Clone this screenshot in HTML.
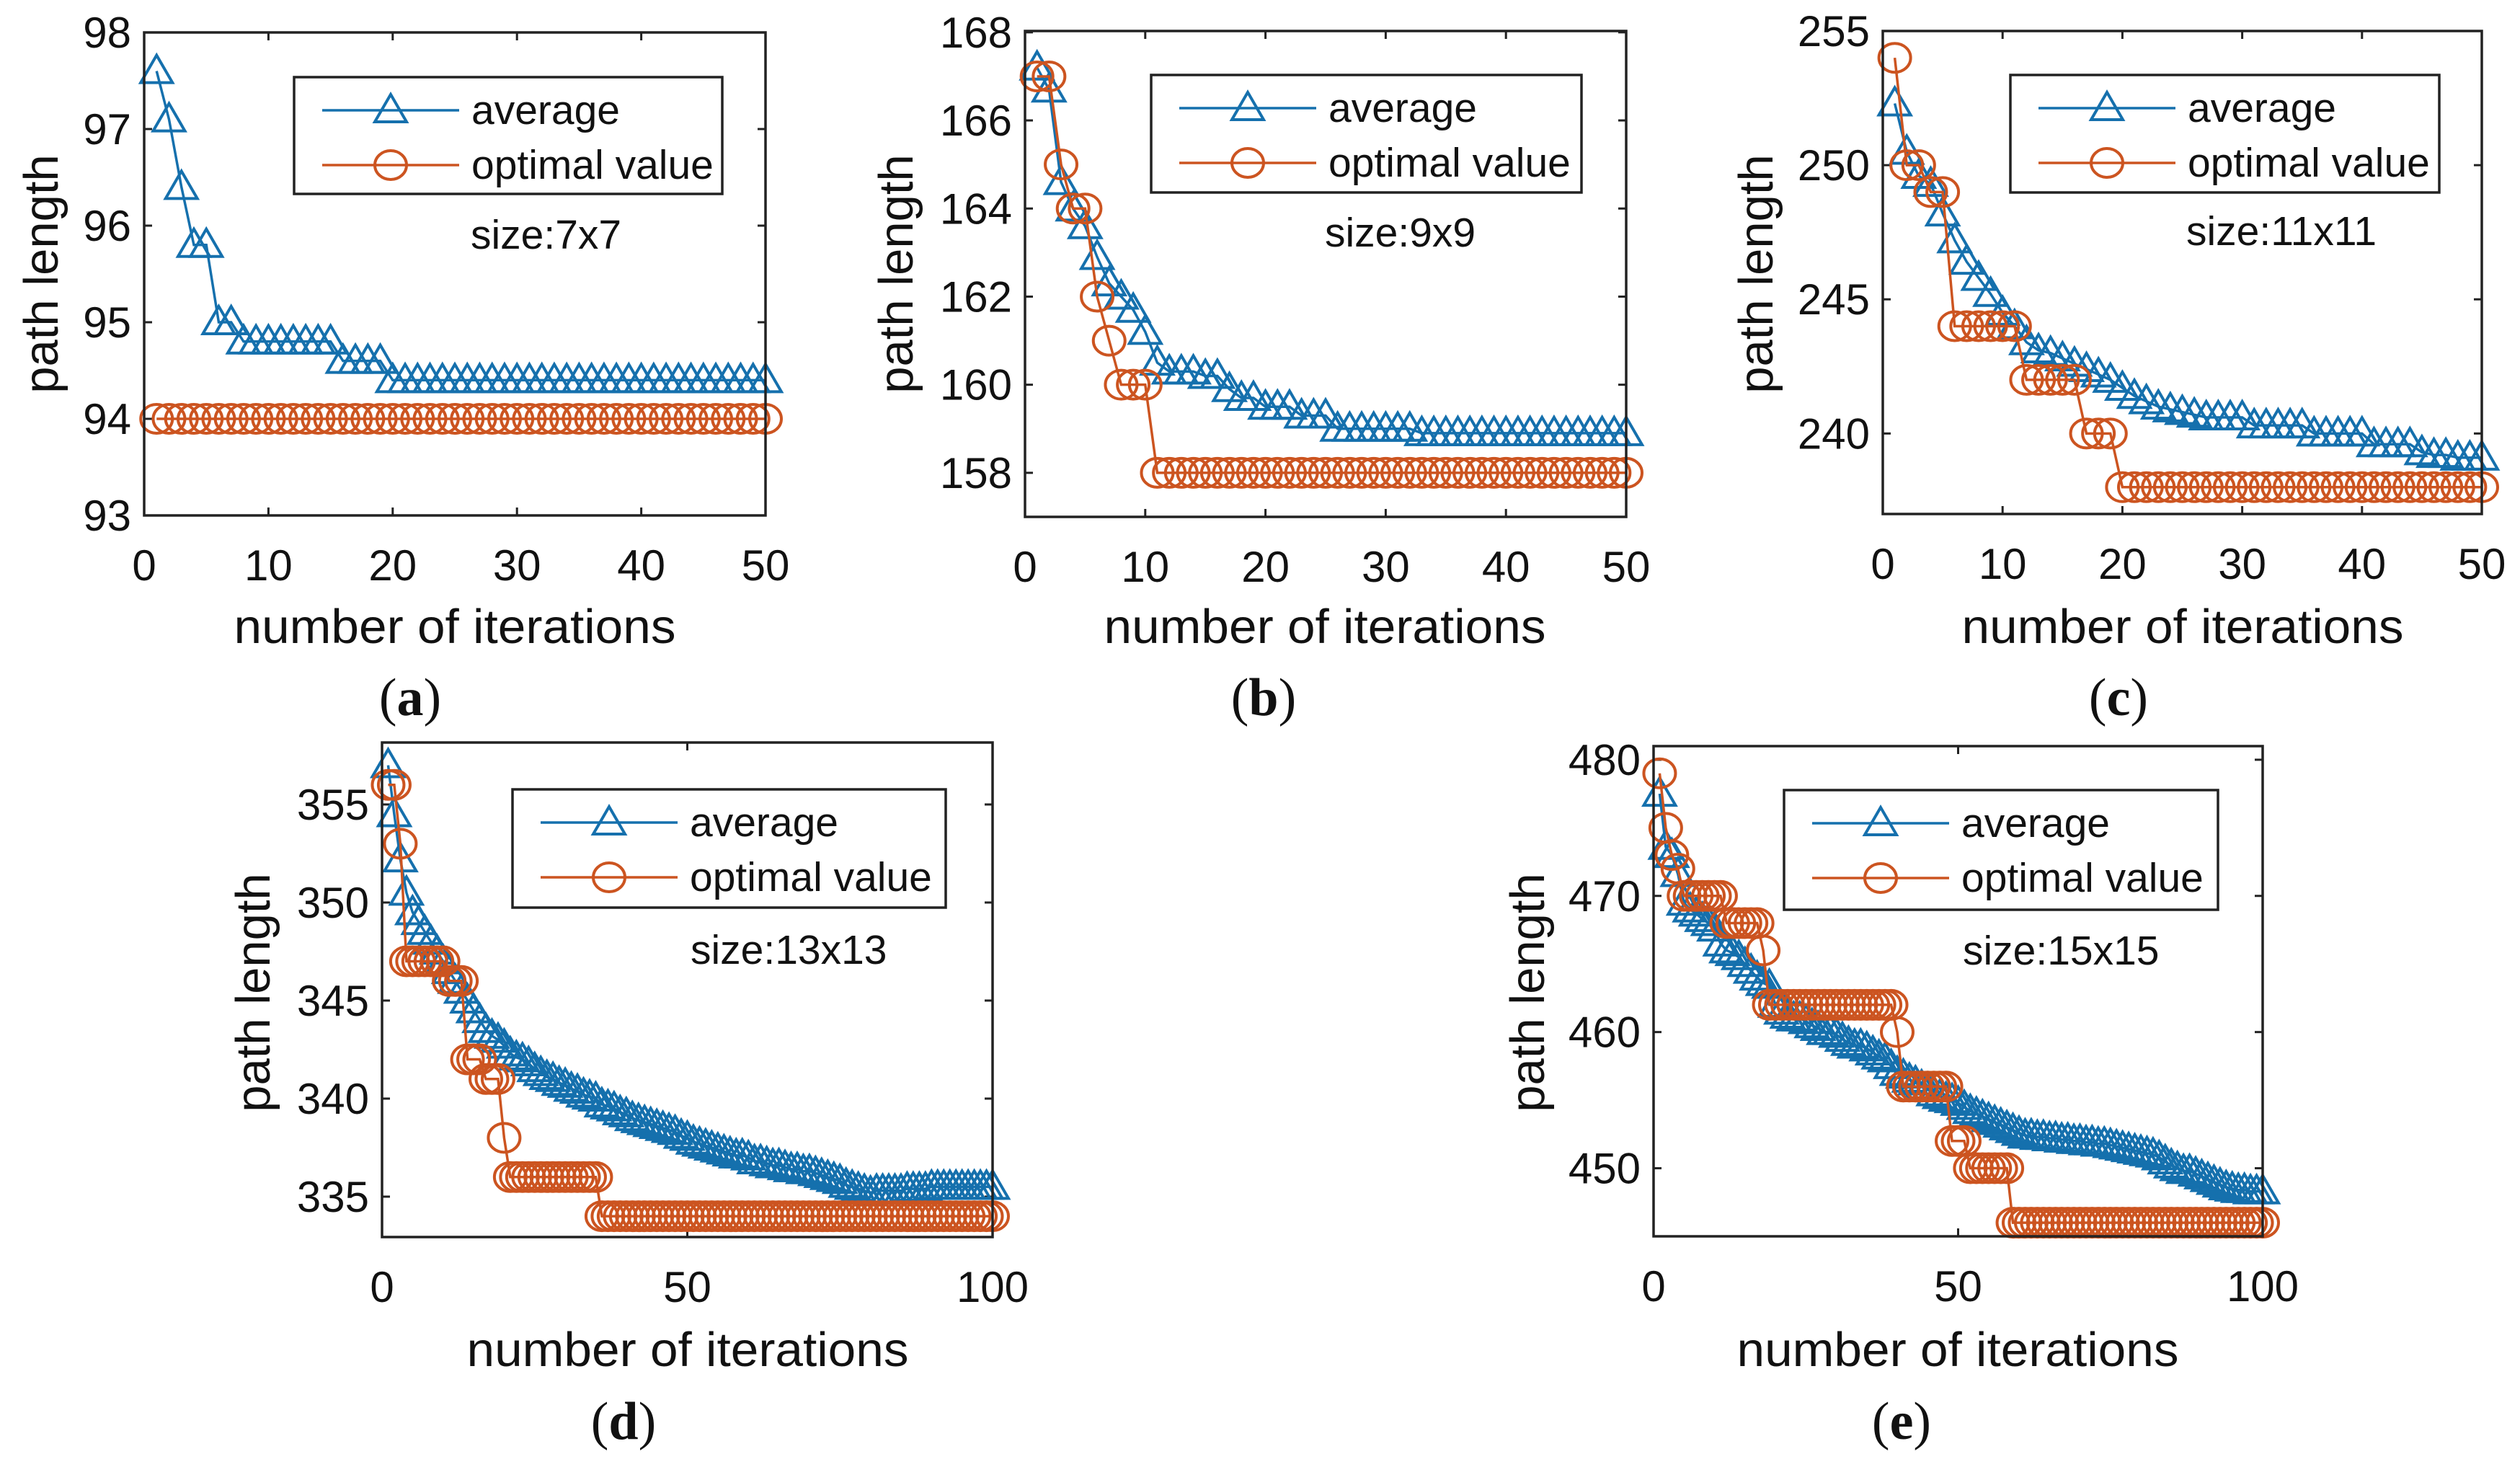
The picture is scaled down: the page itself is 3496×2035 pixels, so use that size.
<!DOCTYPE html>
<html><head><meta charset="utf-8"><style>
html,body{margin:0;padding:0;background:#fff;}
svg{display:block;}
text{font-family:"Liberation Sans",Arial,sans-serif;fill:#111;}
.par{font-family:"Liberation Serif",serif;}
</style></head><body>
<svg id="fig" width="3496" height="2035" viewBox="0 0 3496 2035" xmlns="http://www.w3.org/2000/svg"></svg>
<script>
// ---------- data ----------
const avgA=[97.6,97.1,96.4,95.8,95.8,95.0,95.0,94.8,94.8,94.8,94.8,94.8,94.8,94.8,94.8,94.6,94.6,94.6,94.6,94.4,94.4,94.4,94.4,94.4,94.4,94.4,94.4,94.4,94.4,94.4,94.4,94.4,94.4,94.4,94.4,94.4,94.4,94.4,94.4,94.4,94.4,94.4,94.4,94.4,94.4,94.4,94.4,94.4,94.4,94.4];
const optA=[94,94,94,94,94,94,94,94,94,94,94,94,94,94,94,94,94,94,94,94,94,94,94,94,94,94,94,94,94,94,94,94,94,94,94,94,94,94,94,94,94,94,94,94,94,94,94,94,94,94];
const avgB=[167.2,166.7,164.6,164.0,163.6,162.9,162.3,162.0,161.7,161.2,160.5,160.3,160.3,160.3,160.2,160.2,159.9,159.7,159.7,159.5,159.5,159.5,159.3,159.3,159.3,159.0,159.0,159.0,159.0,159.0,159.0,159.0,158.9,158.9,158.9,158.9,158.9,158.9,158.9,158.9,158.9,158.9,158.9,158.9,158.9,158.9,158.9,158.9,158.9,158.9];
const optB=[167,167,165,164,164,162,161,160,160,160,158,158,158,158,158,158,158,158,158,158,158,158,158,158,158,158,158,158,158,158,158,158,158,158,158,158,158,158,158,158,158,158,158,158,158,158,158,158,158,158];
const avgC=[252.3,250.5,249.6,249.3,248.2,247.2,246.4,245.8,245.2,244.5,244.0,243.4,243.1,243.0,242.8,242.6,242.4,242.2,242.0,241.7,241.4,241.2,241.0,240.9,240.8,240.7,240.6,240.6,240.6,240.6,240.3,240.3,240.3,240.3,240.3,240.0,240.0,240.0,240.0,240.0,239.6,239.6,239.6,239.6,239.3,239.2,239.2,239.1,239.1,239.1];
const optC=[254,250,250,249,249,244,244,244,244,244,244,242,242,242,242,242,240,240,240,238,238,238,238,238,238,238,238,238,238,238,238,238,238,238,238,238,238,238,238,238,238,238,238,238,238,238,238,238,238,238];
const avgD=[357,354.5,352.2,350.5,349.5,349,348.5,348,347.5,347,346.5,346,345.5,345,344.5,344,343.5,343.2,343,342.7,342.3,342.1,342,341.8,341.5,341.3,341.1,341,340.8,340.7,340.5,340.4,340.2,340.1,340,339.7,339.6,339.5,339.3,339.2,339,338.9,338.8,338.7,338.6,338.5,338.4,338.3,338.1,338,337.8,337.7,337.6,337.5,337.4,337.3,337.2,337.1,337.1,337,336.8,336.8,336.7,336.6,336.6,336.5,336.4,336.4,336.3,336.3,336.2,336.1,336,335.9,335.8,335.6,335.5,335.4,335.3,335.2,335.3,335.3,335.3,335.3,335.3,335.4,335.4,335.4,335.4,335.5,335.5,335.5,335.5,335.5,335.5,335.5,335.5,335.5,335.5,335.5];
const optD=[356,356,353,347,347,347,347,347,347,347,346,346,346,342,342,342,341,341,341,338,336,336,336,336,336,336,336,336,336,336,336,336,336,336,336,334,334,334,334,334,334,334,334,334,334,334,334,334,334,334,334,334,334,334,334,334,334,334,334,334,334,334,334,334,334,334,334,334,334,334,334,334,334,334,334,334,334,334,334,334,334,334,334,334,334,334,334,334,334,334,334,334,334,334,334,334,334,334,334,334];
const avgE=[477.5,473.6,473,471.6,469.5,469,468.7,468.3,468,467.6,466.5,466,465.8,465.5,465,464.5,464,463.6,463.4,462,461.5,461.2,461,461,460.8,460.5,460.3,460,460,459.8,459.5,459.2,459,459,458.8,458.5,458.2,458,457.5,457,456.8,456.5,456.3,456,455.8,455.5,455.3,455.1,455,454.8,454.5,454.2,454,453.8,453.6,453.4,453.2,453,452.8,452.6,452.4,452.4,452.3,452.3,452.2,452.2,452.1,452.1,452,452,451.9,451.9,451.8,451.8,451.7,451.6,451.5,451.4,451.3,451.2,451.1,451,450.8,450.5,450.2,450,449.8,449.8,449.6,449.4,449.2,449,448.8,448.6,448.5,448.4,448.4,448.3,448.3,448.3];
const optE=[479,475,473,472,470,470,470,470,470,470,470,468,468,468,468,468,468,466,462,462,462,462,462,462,462,462,462,462,462,462,462,462,462,462,462,462,462,462,462,460,456,456,456,456,456,456,456,456,452,452,452,450,450,450,450,450,450,450,446,446,446,446,446,446,446,446,446,446,446,446,446,446,446,446,446,446,446,446,446,446,446,446,446,446,446,446,446,446,446,446,446,446,446,446,446,446,446,446,446,446];
const ticksA=[93,94,95,96,97,98], ticksB=[158,160,162,164,166,168], ticksC=[240,245,250,255], ticksD=[335,340,345,350,355], ticksE=[450,460,470,480];
const xTicks50=[0,10,20,30,40,50], xTicks100=[0,50,100];
const panelLetters=["a","b","c","d","e"];
const sizeLabels=["size:7x7","size:9x9","size:11x11","size:13x13","size:15x15"];

// ---------- layout ----------
const NS="http://www.w3.org/2000/svg";
const svg=document.getElementById('fig');
const BLUE="#1570ad", ORANGE="#cc5420";
function mk(tag,attrs,parent){const e=document.createElementNS(NS,tag);for(const k in attrs)e.setAttribute(k,attrs[k]);(parent||svg).appendChild(e);return e;}

const panels=[
 {l:200,r:1062,t:45,b:715,x0:0,x1:50,y0:93,y1:98,yt:ticksA,xt:xTicks50,avg:avgA,opt:optA,leg:[408,107,1002,269],sz:[653,345],yl:[58,380],xl:[631,892],pl:[569,992]},
 {l:1422,r:2256,t:43,b:717,x0:0,x1:50,y0:157,y1:168.03,yt:ticksB,xt:xTicks50,avg:avgB,opt:optB,leg:[1597,104,2194,267],sz:[1838,342],yl:[1244,380],xl:[1838,892],pl:[1753,992]},
 {l:2612,r:3443,t:43,b:713,x0:0,x1:50,y0:237,y1:255,yt:ticksC,xt:xTicks50,avg:avgC,opt:optC,leg:[2789,104,3384,267],sz:[3033,340],yl:[2437,380],xl:[3028,892],pl:[2939,992]},
 {l:530,r:1377,t:1030,b:1716,x0:0,x1:100,y0:332.94,y1:358.16,yt:ticksD,xt:xTicks100,avg:avgD,opt:optD,leg:[711,1095,1312,1259],sz:[958,1337],yl:[352,1377],xl:[954,1895],pl:[865,1996]},
 {l:2294,r:3139,t:1035,b:1715,x0:0,x1:100,y0:445,y1:481,yt:ticksE,xt:xTicks100,avg:avgE,opt:optE,leg:[2475,1096,3077,1262],sz:[2723,1338],yl:[2120,1377],xl:[2716,1895],pl:[2638,1996]}
];

function triPts(cx,cy){return `${cx},${cy-22} ${cx-22},${cy+16} ${cx+22},${cy+16}`;}

panels.forEach((p,i)=>{
  const g=mk('g',{});
  
  
  const sx=v=>p.l+(v-p.x0)/(p.x1-p.x0)*(p.r-p.l);
  const sy=v=>p.b-(v-p.y0)/(p.y1-p.y0)*(p.b-p.t);
  p.yt.forEach(v=>{
    const y=sy(v);
    mk('line',{x1:p.l,y1:y,x2:p.l+11,y2:y,stroke:'#222','stroke-width':3},g);
    mk('line',{x1:p.r,y1:y,x2:p.r-11,y2:y,stroke:'#222','stroke-width':3},g);
    const t=mk('text',{x:p.l-18,y:y+21,'text-anchor':'end','font-size':60},g);
    t.textContent=v;
    
    
  });
  p.xt.forEach(v=>{
    const x=sx(v);
    mk('line',{x1:x,y1:p.b,x2:x,y2:p.b-11,stroke:'#222','stroke-width':3},g);
    mk('line',{x1:x,y1:p.t,x2:x,y2:p.t+11,stroke:'#222','stroke-width':3},g);
    const t=mk('text',{x:x,y:p.b+90,'text-anchor':'middle','font-size':60},g);
    t.textContent=v;
    
    
  });
  const series=[[p.avg,BLUE,'tri','average-series'],[p.opt,ORANGE,'circ','optimal-value-series']];
  series.forEach(([arr,col,m,name])=>{
    const sg=mk('g',{},g);
    
    
    const pts=arr.map((v,k)=>sx(k+1)+','+sy(v)).join(' ');
    mk('polyline',{points:pts,fill:'none',stroke:col,'stroke-width':3.5},sg);
    arr.forEach((v,k)=>{
      const cx=sx(k+1),cy=sy(v);
      let e;
      if(m==='tri') e=mk('polygon',{points:triPts(cx,cy),fill:'none',stroke:col,'stroke-width':4},sg);
      else e=mk('ellipse',{cx:cx,cy:cy,rx:22,ry:20,fill:'none',stroke:col,'stroke-width':4},sg);
      
      
    });
  });
  const box=mk('rect',{x:p.l,y:p.t,width:p.r-p.l,height:p.b-p.t,fill:'none',stroke:'#222','stroke-width':3.5},g);
  
  
  const [lx0,ly0,lx1,ly1]=p.leg;
  const lg=mk('g',{},g);
  
  
  mk('rect',{x:lx0,y:ly0,width:lx1-lx0,height:ly1-ly0,fill:'#fff',stroke:'#222','stroke-width':3.5},lg);
  const r1=ly0+46,r2=ly0+122;
  mk('line',{x1:lx0+39,y1:r1,x2:lx0+229,y2:r1,stroke:BLUE,'stroke-width':3.5},lg);
  mk('polygon',{points:triPts(lx0+134,r1),fill:'none',stroke:BLUE,'stroke-width':4},lg);
  mk('line',{x1:lx0+39,y1:r2,x2:lx0+229,y2:r2,stroke:ORANGE,'stroke-width':3.5},lg);
  mk('ellipse',{cx:lx0+134,cy:r2,rx:22,ry:20,fill:'none',stroke:ORANGE,'stroke-width':4},lg);
  const t1=mk('text',{x:lx0+246,y:r1+19,'font-size':57},lg); t1.textContent='average';
  
  
  const t2=mk('text',{x:lx0+246,y:r2+19,'font-size':57},lg); t2.textContent='optimal value';
  
  
  const sz=mk('text',{x:p.sz[0],y:p.sz[1],'font-size':57},g); sz.textContent=sizeLabels[i];
  
  
  const yt=mk('text',{x:0,y:0,'text-anchor':'middle','font-size':67,transform:`translate(${p.yl[0]+22},${p.yl[1]}) rotate(-90)`},g);
  yt.textContent='path length';
  
  
  const xt=mk('text',{x:p.xl[0],y:p.xl[1],'text-anchor':'middle','font-size':67,textLength:613,lengthAdjust:'spacingAndGlyphs'},g);
  xt.textContent='number of iterations';
  
  
  const pl=mk('text',{x:p.pl[0],y:p.pl[1],'text-anchor':'middle','font-size':74,'class':'par'},g);
  pl.innerHTML='(<tspan font-weight="bold">'+panelLetters[i]+'</tspan>)';
  
  
});
</script>
</body></html>
